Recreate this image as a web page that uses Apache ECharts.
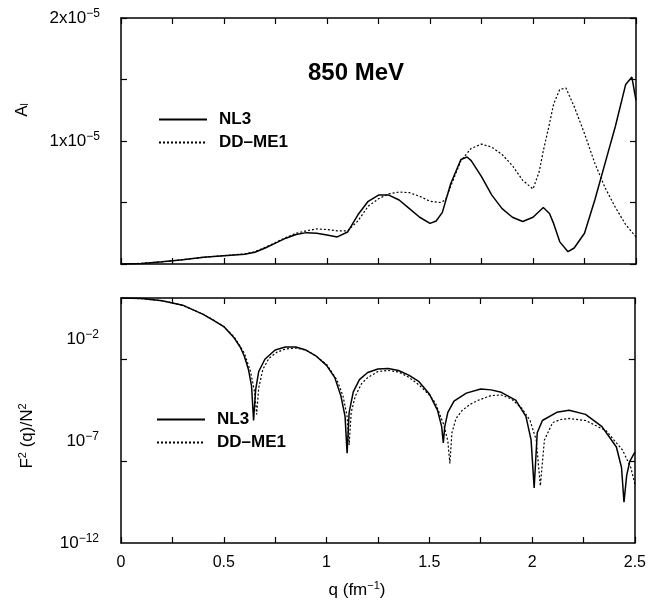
<!DOCTYPE html>
<html>
<head>
<meta charset="utf-8">
<script src="https://cdn.jsdelivr.net/npm/echarts@6/dist/echarts.min.js"></script>
<style>html,body{margin:0;padding:0;background:#fff;}#c{width:649px;height:605px;}</style>
</head>
<body>
<div id="c"></div>
<script>
// ---- Top panel: A_l (units of 1e-5) vs q (fm^-1)
const nl3Q  = [0,0.1,0.2,0.3,0.4,0.5,0.6,0.65,0.7,0.75,0.8,0.85,0.9,0.95,1.0,1.05,1.1,1.15,1.2,1.25,1.3,1.35,1.4,1.45,1.5,1.53,1.56,1.6,1.65,1.68,1.7,1.75,1.8,1.85,1.9,1.95,2.0,2.05,2.08,2.1,2.13,2.17,2.2,2.25,2.3,2.35,2.4,2.45,2.48,2.5];
const nl3A  = [0,0.005,0.018,0.035,0.055,0.068,0.08,0.095,0.13,0.17,0.21,0.24,0.255,0.25,0.235,0.22,0.26,0.40,0.51,0.56,0.56,0.52,0.45,0.38,0.33,0.35,0.42,0.65,0.85,0.87,0.84,0.71,0.56,0.45,0.38,0.345,0.38,0.46,0.41,0.33,0.18,0.10,0.13,0.25,0.52,0.82,1.12,1.46,1.52,1.33];
const ddQ   = [0,0.1,0.2,0.3,0.4,0.5,0.6,0.65,0.7,0.75,0.8,0.85,0.9,0.95,1.0,1.05,1.1,1.15,1.2,1.25,1.3,1.35,1.4,1.45,1.5,1.55,1.575,1.6,1.65,1.7,1.75,1.8,1.85,1.9,1.95,2.0,2.03,2.05,2.08,2.1,2.13,2.16,2.2,2.25,2.3,2.35,2.4,2.45,2.5];
const ddA   = [0,0.005,0.018,0.035,0.055,0.068,0.082,0.1,0.135,0.175,0.215,0.25,0.27,0.285,0.28,0.27,0.27,0.35,0.47,0.53,0.57,0.585,0.58,0.55,0.51,0.50,0.52,0.63,0.84,0.94,0.975,0.95,0.89,0.80,0.68,0.61,0.75,0.92,1.14,1.30,1.42,1.43,1.28,1.06,0.82,0.62,0.46,0.32,0.22];

// ---- Bottom panel: log10(F^2(q)/N^2) vs q
const nl3FQ = [0,0.1,0.2,0.3,0.4,0.45,0.5,0.55,0.58,0.6,0.62,0.635,0.645,0.655,0.67,0.7,0.75,0.8,0.85,0.9,0.95,1.0,1.04,1.07,1.09,1.1,1.11,1.13,1.16,1.2,1.25,1.3,1.35,1.4,1.45,1.5,1.54,1.56,1.568,1.575,1.59,1.62,1.68,1.75,1.8,1.85,1.92,1.97,1.995,2.01,2.025,2.05,2.12,2.18,2.26,2.34,2.41,2.435,2.447,2.46,2.475,2.5];
const nl3LogF = [0,-0.03,-0.13,-0.35,-0.8,-1.1,-1.4,-1.95,-2.4,-2.85,-3.5,-4.3,-6.0,-4.5,-3.6,-3.0,-2.55,-2.4,-2.4,-2.55,-2.85,-3.3,-3.9,-4.8,-5.8,-7.6,-5.6,-4.6,-4.0,-3.65,-3.48,-3.45,-3.55,-3.78,-4.1,-4.7,-5.5,-6.3,-7.1,-6.3,-5.6,-5.05,-4.66,-4.46,-4.5,-4.62,-5.0,-5.8,-6.95,-9.3,-6.6,-6.0,-5.6,-5.5,-5.7,-6.3,-7.3,-8.3,-10.0,-8.7,-8.0,-7.55];
const ddFQ  = [0,0.1,0.2,0.3,0.4,0.45,0.5,0.55,0.6,0.63,0.65,0.66,0.67,0.69,0.72,0.76,0.8,0.85,0.9,0.95,1.0,1.05,1.08,1.1,1.11,1.12,1.14,1.17,1.2,1.25,1.3,1.35,1.4,1.45,1.5,1.53,1.57,1.59,1.6,1.61,1.63,1.66,1.7,1.74,1.8,1.85,1.9,1.95,1.99,2.02,2.04,2.06,2.1,2.14,2.18,2.26,2.36,2.44,2.48,2.5];
const ddLogF = [0,-0.03,-0.13,-0.36,-0.8,-1.08,-1.4,-1.9,-2.7,-3.6,-4.6,-5.7,-4.4,-3.5,-2.95,-2.65,-2.5,-2.45,-2.55,-2.85,-3.25,-4.0,-4.8,-5.8,-7.2,-5.6,-4.8,-4.2,-3.9,-3.6,-3.55,-3.62,-3.88,-4.26,-4.75,-5.15,-6.2,-7.0,-8.1,-6.6,-5.9,-5.5,-5.2,-5.0,-4.78,-4.75,-4.95,-5.4,-6.0,-6.95,-9.2,-6.95,-6.1,-5.95,-5.9,-6.0,-6.5,-7.45,-8.3,-9.1];

const xLabels = [0,0.5,1,1.5,2,2.5];
const topYLabels = [1,2];        // x10^-5
const botYLabels = [-12,-7,-2];  // exponents
const botYTicks = [-8,-3];

const FONT = 'Liberation Sans, Arial, Helvetica, sans-serif';
const pair = (xs, ys) => xs.map((x, i) => [x, ys[i]]);

const baseAxisLine = {show: true, onZero: false, lineStyle: {color: '#000', width: 1.5}};
const tick = {show: true, inside: true, length: 6, lineStyle: {color: '#000', width: 1.2}};

function xAx(grid, pos, labels) {
  return {
    gridIndex: grid, type: 'value', min: 0, max: 2.5, interval: 0.25, position: pos,
    axisLine: baseAxisLine, axisTick: tick, splitLine: {show: false},
    axisLabel: labels ? {
      show: true, color: '#000', fontSize: 16, fontFamily: FONT, margin: 12,
      showMinLabel: true, showMaxLabel: true,
      formatter: v => xLabels.some(l => Math.abs(l - v) < 1e-6) ? String(v) : ''
    } : {show: false}
  };
}

const supRich = {
  a: {fontSize: 17, fontFamily: FONT, color: '#000'},
  s: {fontSize: 12, fontFamily: FONT, color: '#000', padding: [0, 0, 9, 0]}
};

const legendBase = {
  orient: 'vertical', padding: 0, itemWidth: 48, itemHeight: 14, itemGap: 6,
  data: ['NL3', 'DD–ME1'],
  itemStyle: {opacity: 0},
  textStyle: {fontSize: 17, fontWeight: 'bold', fontFamily: FONT, color: '#000', padding: [0, 0, 0, 7]}
};

const option = {
  animation: false,
  backgroundColor: '#fff',
  grid: [
    {left: 121, top: 18, width: 515, height: 246},
    {left: 121, top: 298, width: 515, height: 245}
  ],
  xAxis: [xAx(0, 'bottom', false), xAx(0, 'top', false), xAx(1, 'bottom', true), xAx(1, 'top', false)],
  yAxis: [
    {gridIndex: 0, type: 'value', min: 0, max: 2, interval: 0.5, position: 'left',
     axisLine: baseAxisLine, axisTick: tick, splitLine: {show: false},
     axisLabel: {show: true, margin: 21, showMaxLabel: true,
       formatter: v => topYLabels.indexOf(v) >= 0 ? '{a|' + v + 'x10}{s|−5}' : '', rich: supRich}},
    {gridIndex: 0, type: 'value', min: 0, max: 2, interval: 0.5, position: 'right',
     axisLine: baseAxisLine, axisTick: tick, splitLine: {show: false}, axisLabel: {show: false}},
    {gridIndex: 1, type: 'value', min: -12, max: 0, position: 'left',
     axisLine: baseAxisLine, splitLine: {show: false},
     axisTick: Object.assign({}, tick, {customValues: botYTicks}),
     axisLabel: {show: true, margin: 22, customValues: botYLabels,
       formatter: v => '{a|10}{s|' + String(v).replace('-', '−') + '}', rich: supRich}},
    {gridIndex: 1, type: 'value', min: -12, max: 0, position: 'right',
     axisLine: baseAxisLine, splitLine: {show: false},
     axisTick: Object.assign({}, tick, {customValues: botYTicks}),
     axisLabel: {show: false}}
  ],
  legend: [
    Object.assign({}, legendBase, {left: 158, top: 111}),
    Object.assign({}, legendBase, {left: 156, top: 411})
  ],
  series: [
    {name: 'NL3', type: 'line', xAxisIndex: 0, yAxisIndex: 0, data: pair(nl3Q, nl3A),
     symbol: 'none', lineStyle: {color: '#000', width: 1.5, type: 'solid'}, itemStyle: {color: '#000'}},
    {name: 'DD–ME1', type: 'line', xAxisIndex: 0, yAxisIndex: 0, data: pair(ddQ, ddA),
     symbol: 'none', lineStyle: {color: '#000', width: 1.2, type: [2, 2]}, itemStyle: {color: '#000'}},
    {name: 'NL3', type: 'line', xAxisIndex: 2, yAxisIndex: 2, data: pair(nl3FQ, nl3LogF),
     symbol: 'none', lineStyle: {color: '#000', width: 1.5, type: 'solid'}, itemStyle: {color: '#000'}},
    {name: 'DD–ME1', type: 'line', xAxisIndex: 2, yAxisIndex: 2, data: pair(ddFQ, ddLogF),
     symbol: 'none', lineStyle: {color: '#000', width: 1.2, type: [2, 2]}, itemStyle: {color: '#000'}}
  ],
  graphic: [
    {type: 'text', x: 356, y: 73, style: {text: '850 MeV', font: 'bold 24px ' + FONT, fill: '#000', align: 'center', verticalAlign: 'middle'}},
    {type: 'text', x: 22, y: 110, rotation: Math.PI / 2,
     style: {text: '{a|A}{b|l}', align: 'center', verticalAlign: 'middle',
       rich: {a: {fontSize: 17, fontFamily: FONT, fill: '#000'}, b: {fontSize: 10, fontFamily: FONT, fill: '#000', padding: [6, 0, 0, 0]}}}},
    {type: 'text', x: 27, y: 436, rotation: Math.PI / 2,
     style: {text: '{a|F}{s|2}{a| (q)/N}{s|2}', align: 'center', verticalAlign: 'middle',
       rich: {a: {fontSize: 17, fontFamily: FONT, fill: '#000'}, s: {fontSize: 11, fontFamily: FONT, fill: '#000', padding: [0, 0, 9, 0]}}}},
    {type: 'text', x: 357, y: 590,
     style: {text: '{a|q (fm}{s|−1}{a|)}', align: 'center', verticalAlign: 'middle',
       rich: {a: {fontSize: 17, fontFamily: FONT, fill: '#000'}, s: {fontSize: 11, fontFamily: FONT, fill: '#000', padding: [0, 0, 9, 0]}}}}
  ]
};

const chart = echarts.init(document.getElementById('c'), null, {renderer: 'canvas'});
chart.setOption(option);
</script>
</body>
</html>
